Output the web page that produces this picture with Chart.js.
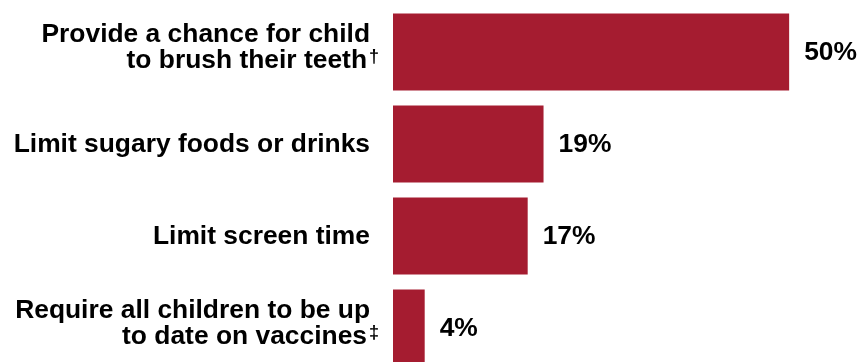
<!DOCTYPE html>
<html lang="en">
<head>
    <meta charset="UTF-8">
    <title>Steps taken by child care providers</title>
    <script src="https://cdn.jsdelivr.net/npm/chart.js"></script>
    <style>
        html, body { margin: 0; padding: 0; background: #fff; overflow: hidden; }
    </style>
</head>
<body>

<div style="position: relative; width: 866px; height: 374px;">
    <canvas id="stepsChart"></canvas>
</div>

<script>
    // categories (multi-line labels), footnote marks and percentages
    const categories = [
        ['Provide a chance for child', 'to brush their teeth'],
        'Limit sugary foods or drinks',
        'Limit screen time',
        ['Require all children to be up', 'to date on vaccines']
    ];
    const footnoteMarks = ['†', '', '', '‡'];
    const percentValues = [50, 19, 17, 4];
    const valueLabels = ['50%', '19%', '17%', '4%'];

    const barColor = '#A51C30';
    const fontFamily = "'Liberation Sans', Arial, sans-serif";
    const fontSize = 26.4;
    const lineGap = 25.5;

    // category labels on the left, with small raised footnote marks
    const categoryLabelPlugin = {
        id: 'categoryLabels',
        afterDraw(chart) {
            const { ctx } = chart;
            const yScale = chart.scales.y;
            const right = yScale.right - 23;
            ctx.save();
            ctx.fillStyle = '#000';
            ctx.textBaseline = 'alphabetic';
            categories.forEach((cat, i) => {
                const lines = Array.isArray(cat) ? cat : [cat];
                const n = lines.length;
                const tickY = yScale.getPixelForTick(i);
                // two-line labels sit a little higher in the original
                const shift = (n - 1) * 5.25;
                lines.forEach((line, j) => {
                    const baseY = tickY + 8 + (j - (n - 1) / 2) * lineGap - shift;
                    const isLast = j === n - 1;
                    const mark = isLast ? footnoteMarks[i] : '';
                    ctx.font = `bold ${fontSize}px ${fontFamily}`;
                    ctx.textAlign = 'right';
                    ctx.fillText(line, mark ? right - 3 : right, baseY);
                    if (mark) {
                        ctx.font = `bold 18px ${fontFamily}`;
                        ctx.textAlign = 'left';
                        ctx.fillText(mark, right - 1, baseY - 6);
                    }
                });
            });
            ctx.restore();
        }
    };

    // percentage next to each bar
    const valueLabelPlugin = {
        id: 'valueLabels',
        afterDatasetsDraw(chart) {
            const { ctx } = chart;
            const meta = chart.getDatasetMeta(0);
            ctx.save();
            ctx.font = `bold ${fontSize}px ${fontFamily}`;
            ctx.fillStyle = '#000';
            ctx.textAlign = 'left';
            ctx.textBaseline = 'middle';
            meta.data.forEach((bar, i) => {
                ctx.fillText(valueLabels[i], bar.x + 15, bar.y + 1);
            });
            ctx.restore();
        }
    };

    new Chart(document.getElementById('stepsChart'), {
        type: 'bar',
        data: {
            labels: categories,
            datasets: [{
                data: percentValues,
                backgroundColor: barColor,
                borderWidth: 0,
                categoryPercentage: 1,
                barPercentage: 0.837,
            }],
        },
        options: {
            indexAxis: 'y',
            responsive: true,
            maintainAspectRatio: false,
            animation: false,
            layout: { padding: { top: 6, right: 0, bottom: 0, left: 0 } },
            plugins: {
                legend: { display: false },
                tooltip: { enabled: false },
            },
            scales: {
                x: {
                    display: false,
                    min: 0,
                    max: 59.7,
                },
                y: {
                    grid: { display: false, drawTicks: false },
                    border: { display: false },
                    ticks: { display: false },
                    afterFit(scale) {
                        scale.width = 393;
                        scale.paddingTop = 0;
                        scale.paddingBottom = 0;
                    },
                },
            },
        },
        plugins: [valueLabelPlugin, categoryLabelPlugin],
    });
</script>

</body>
</html>
